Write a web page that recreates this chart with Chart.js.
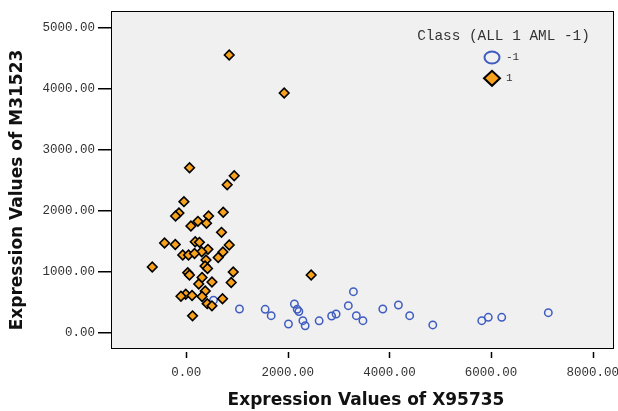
<!DOCTYPE html>
<html><head><meta charset="utf-8">
<script src="https://cdn.jsdelivr.net/npm/chart.js@4/dist/chart.umd.min.js"></script>
<style>html,body{margin:0;padding:0;background:#fff;} #wrap{width:618px;height:411px;}</style>
</head><body><div id="wrap"><canvas id="c" width="618" height="411"></canvas></div>
<script>
const seriesNames = ['-1', '1'];
const legendTitle = 'Class (ALL 1 AML -1)';
const xTitle = 'Expression Values of X95735';
const yTitle = 'Expression Values of M31523';
const xTicks = [0, 2000, 4000, 6000, 8000];
const yTicks = [0, 1000, 2000, 3000, 4000, 5000];

// class 1 (ALL)
const allX = [846, 1928, 2459, 65, 944, 806, -45, -144, -210, 439, 728, 230, 92, 399, 694, -427, -216, 177, 260, 846,
  427, 305, -69, 45, 163, 722, 629, 389, -669, 370, 419, 30, 63, 925, 311, 506, 885, 246, 374, -10,
  -104, 114, 311, 714, 413, 506, 124];
const allY = [4546, 3922, 939, 2698, 2567, 2419, 2141, 1955, 1906, 1906, 1967, 1819, 1742, 1787, 1639, 1464, 1439, 1485, 1475, 1431,
  1360, 1321, 1267, 1267, 1292, 1316, 1226, 1185, 1070, 1087, 1046, 977, 939, 988, 898, 824, 816, 792, 677, 623,
  590, 603, 587, 549, 469, 434, 270];
// class -1 (AML)
const amlX = [537, 1048, 1554, 1672, 2012, 2129, 2184, 2217, 2296, 2341, 2616, 2862, 2950, 3190, 3291, 3348, 3478, 3869, 4176, 4398,
  4853, 5817, 5946, 6210, 7127];
const amlY = [526, 382, 377, 272, 136, 464, 377, 341, 190, 107, 188, 267, 300, 436, 665, 272, 190, 382, 447, 272,
  120, 190, 246, 246, 321];

const BLUE = '#3f5cc0';
const ORANGE = '#f7a11d';
const toPts = (xs, ys) => xs.map((x, i) => ({x: x, y: ys[i]}));

const deco = {
  id: 'deco',
  beforeDraw(chart) {
    const {ctx, chartArea: a} = chart;
    ctx.save();
    ctx.fillStyle = '#ffffff';
    ctx.fillRect(0, 0, chart.width, chart.height);
    ctx.fillStyle = '#f0f0f0';
    ctx.fillRect(a.left, a.top, a.right - a.left, a.bottom - a.top);
    ctx.restore();
  },
  afterDraw(chart) {
    const {ctx, chartArea: a} = chart;
    const xs = chart.scales.x;
    ctx.save();
    ctx.strokeStyle = '#000';
    ctx.lineWidth = 1;
    ctx.strokeRect(Math.round(a.left) + 0.5, Math.round(a.top) + 0.5, Math.round(a.right - a.left) - 1, Math.round(a.bottom - a.top) - 1);
    // x tick marks (detached from the frame)
    ctx.lineWidth = 1.5;
    xTicks.forEach(v => {
      const px = Math.round(xs.getPixelForValue(v)) + 0.5;
      ctx.beginPath();
      ctx.moveTo(px, a.bottom + 3);
      ctx.lineTo(px, a.bottom + 9);
      ctx.stroke();
    });
    // axis titles
    ctx.fillStyle = '#111';
    ctx.font = 'bold 17px "DejaVu Sans"';
    ctx.textAlign = 'center';
    ctx.textBaseline = 'middle';
    ctx.fillText(xTitle, 366, 401);
    ctx.save();
    ctx.translate(18, 190);
    ctx.rotate(-Math.PI / 2);
    ctx.fillText(yTitle, 0, 0);
    ctx.restore();
    // legend
    ctx.fillStyle = '#333';
    ctx.font = '14.4px "Liberation Mono"';
    ctx.fillText(legendTitle, 503.5, 36);
    ctx.beginPath();
    ctx.ellipse(492, 57.5, 7.5, 6, 0, 0, Math.PI * 2);
    ctx.strokeStyle = BLUE;
    ctx.lineWidth = 2;
    ctx.stroke();
    ctx.beginPath();
    ctx.moveTo(484, 78.3); ctx.lineTo(492, 70.8); ctx.lineTo(500, 78.3); ctx.lineTo(492, 85.8); ctx.closePath();
    ctx.fillStyle = ORANGE;
    ctx.fill();
    ctx.strokeStyle = '#000';
    ctx.lineWidth = 2;
    ctx.stroke();
    ctx.fillStyle = '#333';
    ctx.font = '11px "Liberation Mono"';
    ctx.textAlign = 'left';
    ctx.fillText(seriesNames[0], 506, 57.5);
    ctx.fillText(seriesNames[1], 506, 78.5);
    ctx.restore();
  }
};

new Chart(document.getElementById('c'), {
  type: 'scatter',
  data: {
    datasets: [
      {label: seriesNames[1], data: toPts(allX, allY), pointStyle: 'rectRot', pointRadius: 4.8,
       backgroundColor: ORANGE, borderColor: '#000', borderWidth: 1.6, pointHoverRadius: 4.8},
      {label: seriesNames[0], data: toPts(amlX, amlY), pointStyle: 'circle', pointRadius: 3.7,
       backgroundColor: 'rgba(0,0,0,0)', borderColor: BLUE, borderWidth: 1.5, pointHoverRadius: 3.7}
    ]
  },
  options: {
    responsive: false,
    animation: false,
    devicePixelRatio: 1,
    layout: {autoPadding: false, padding: {left: 0, top: 11, right: 4, bottom: 0}},
    plugins: {legend: {display: false}, tooltip: {enabled: false}},
    scales: {
      x: {
        type: 'linear', position: 'bottom', min: -1481, max: 8420,
        afterBuildTicks: s => { s.ticks = xTicks.map(v => ({value: v})); },
        afterFit: s => { s.height = 62; s.paddingLeft = 0; s.paddingRight = 0; },
        grid: {display: false, drawTicks: false},
        border: {display: false},
        ticks: {font: {family: 'Liberation Mono', size: 12.5}, color: '#333', padding: 16, maxRotation: 0,
          callback: v => Number(v).toFixed(2)}
      },
      y: {
        type: 'linear', position: 'left', min: -274, max: 5267,
        afterBuildTicks: s => { s.ticks = yTicks.map(v => ({value: v})); },
        afterFit: s => { s.width = 111; s.paddingTop = 0; s.paddingBottom = 0; },
        grid: {display: true, drawOnChartArea: false, drawTicks: true, tickLength: 13, color: '#000', lineWidth: 1.5},
        border: {display: false},
        ticks: {font: {family: 'Liberation Mono', size: 12.5}, color: '#333', padding: 3,
          callback: v => Number(v).toFixed(2)}
      }
    }
  },
  plugins: [deco]
});
</script>
</body></html>
